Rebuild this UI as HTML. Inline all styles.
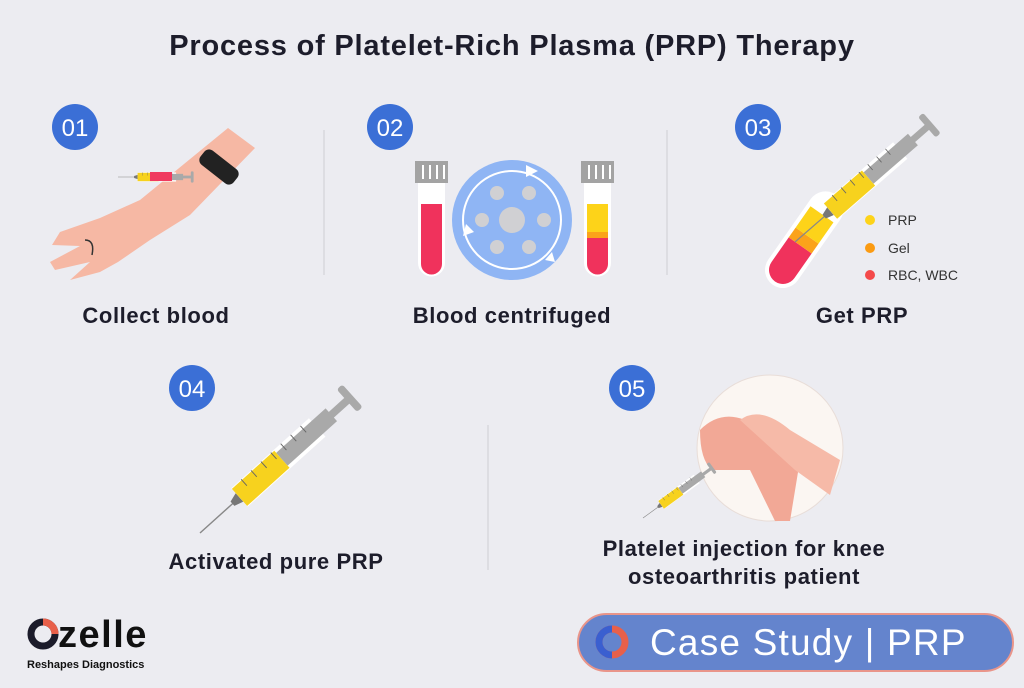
<!DOCTYPE html>
<html><head><meta charset="utf-8"><style>
body{margin:0;width:1024px;height:683px;background:#ececf1;font-family:"Liberation Sans",sans-serif;overflow:hidden}
</style></head><body>
<svg width="1024" height="683" viewBox="0 0 1024 683" xmlns="http://www.w3.org/2000/svg">
<defs>
<g id="syr">
 <line x1="0" y1="0" x2="48" y2="0" stroke="#888" stroke-width="1.5"/>
 <polygon points="46,-3 56,-6 56,6 46,3" fill="#777"/>
 <rect x="56" y="-13" width="110" height="26" fill="#fff"/>
 <rect x="56" y="-12" width="60" height="24" fill="#f7d21e"/>
 <rect x="116" y="-9" width="70" height="18" fill="#a9a9a9"/>
 <rect x="184" y="-4" width="26" height="8" fill="#a9a9a9"/>
 <rect x="208" y="-16" width="8" height="32" rx="3" fill="#a9a9a9"/>
 <g stroke="#666" stroke-width="1"><line x1="70" y1="-13" x2="70" y2="-4"/><line x1="84" y1="-13" x2="84" y2="-4"/><line x1="98" y1="-13" x2="98" y2="-4"/><line x1="112" y1="-13" x2="112" y2="-4"/><line x1="126" y1="-13" x2="126" y2="-4"/><line x1="140" y1="-13" x2="140" y2="-4"/><line x1="154" y1="-13" x2="154" y2="-4"/></g>
</g>
</defs>
<text x="512" y="55" text-anchor="middle" font-size="29" letter-spacing="0.8" font-weight="bold" fill="#1d1d2b">Process of Platelet-Rich Plasma (PRP) Therapy</text>
<g font-size="24" fill="#fff" text-anchor="middle">
<circle cx="75" cy="127" r="23" fill="#3b6fd6"/><text x="75" y="136">01</text>
<circle cx="390" cy="127" r="23" fill="#3b6fd6"/><text x="390" y="136">02</text>
<circle cx="758" cy="127" r="23" fill="#3b6fd6"/><text x="758" y="136">03</text>
<circle cx="192" cy="388" r="23" fill="#3b6fd6"/><text x="192" y="397">04</text>
<circle cx="632" cy="388" r="23" fill="#3b6fd6"/><text x="632" y="397">05</text>
</g>
<g stroke="#d8d8de" stroke-width="1.5"><line x1="324" y1="130" x2="324" y2="275"/><line x1="667" y1="130" x2="667" y2="275"/><line x1="488" y1="425" x2="488" y2="570"/></g>
<!-- arm -->
<path d="M255,148 L228,128 L140,200 L100,218 L60,232 L52,245 L80,246 L50,262 L55,270 L90,262 L70,280 L100,272 L118,262 L150,240 L190,215 Z" fill="#f6b8a4"/>
<path d="M85,240 Q95,240 92,255" stroke="#333" stroke-width="1.5" fill="none"/>
<rect x="198" y="158" width="42" height="18" rx="6" fill="#222" transform="rotate(38 219 167)"/>
<g transform="translate(118,177) scale(0.35)"><use href="#syr"/></g>
<rect x="150" y="172" width="22" height="9" fill="#f03a5f"/>
<!-- centrifuge -->
<g>
<rect x="415" y="161" width="33" height="22" fill="#a3a3a3"/>
<g stroke="#fff" stroke-width="2"><line x1="423" y1="165" x2="423" y2="179"/><line x1="430" y1="165" x2="430" y2="179"/><line x1="437" y1="165" x2="437" y2="179"/><line x1="444" y1="165" x2="444" y2="179"/></g>
<path d="M418,183 h27 v80 a13.5,13.5 0 0 1 -27,0 z" fill="#fff"/>
<path d="M421,204 h21 v60 a10.5,10.5 0 0 1 -21,0 z" fill="#f0325c"/>
<rect x="581" y="161" width="33" height="22" fill="#a3a3a3"/>
<g stroke="#fff" stroke-width="2"><line x1="589" y1="165" x2="589" y2="179"/><line x1="596" y1="165" x2="596" y2="179"/><line x1="603" y1="165" x2="603" y2="179"/><line x1="610" y1="165" x2="610" y2="179"/></g>
<path d="M584,183 h27 v80 a13.5,13.5 0 0 1 -27,0 z" fill="#fff"/>
<path d="M587,204 h21 v60 a10.5,10.5 0 0 1 -21,0 z" fill="#f0325c"/>
<rect x="587" y="204" width="21" height="28" fill="#fdd319"/>
<rect x="587" y="232" width="21" height="6" fill="#fba31a"/>
<circle cx="512" cy="220" r="60" fill="#8fb5f4"/>
<circle cx="512" cy="220" r="49" fill="none" stroke="#fff" stroke-width="2"/>
<circle cx="512" cy="220" r="13" fill="#d0d0d3"/>
<g fill="#d0d0d3"><circle cx="497" cy="193" r="7"/><circle cx="529" cy="193" r="7"/><circle cx="482" cy="220" r="7"/><circle cx="544" cy="220" r="7"/><circle cx="497" cy="247" r="7"/><circle cx="529" cy="247" r="7"/></g>
<g fill="#fff"><polygon points="526,165 538,171 526,177"/><polygon points="463,236 466,224 474,232"/><polygon points="545,260 552,252 555,262"/></g>
</g>
<!-- get prp -->
<g transform="translate(783,270) rotate(-55)">
<rect x="-18" y="-18" width="110" height="36" rx="18" fill="#fff"/>
<path d="M0,-14 h30 v28 h-30 a14,14 0 0 1 0,-28z" fill="#f0325c"/>
<rect x="30" y="-14" width="12" height="28" fill="#fba31a"/>
<rect x="42" y="-14" width="26" height="28" fill="#fdd319"/>
</g>
<g transform="translate(795,242) rotate(-41) scale(0.84)"><use href="#syr"/></g>
<g font-size="14" fill="#333"><circle cx="870" cy="220" r="5" fill="#fdd319"/><text x="888" y="225">PRP</text>
<circle cx="870" cy="248" r="5" fill="#fb9b12"/><text x="888" y="253">Gel</text>
<circle cx="870" cy="275" r="5" fill="#f44a4a"/><text x="888" y="280">RBC, WBC</text></g>
<!-- 04 -->
<g transform="translate(200,533) rotate(-42) scale(0.95)"><use href="#syr"/></g>
<!-- 05 -->
<circle cx="770" cy="448" r="73" fill="#fbf6f2" stroke="#e8ddd8"/>
<path d="M700,430 Q720,410 745,420 L800,460 L790,521 L775,521 L750,470 L712,470 Q700,460 700,430Z" fill="#f2a896"/>
<path d="M740,420 Q760,405 790,430 L840,460 L830,495 L795,470 Z" fill="#f6baa8"/>
<g transform="translate(643,518) rotate(-36) scale(0.4)"><use href="#syr"/></g>
<g font-size="22" letter-spacing="0.6" font-weight="bold" fill="#1d1d2b" text-anchor="middle">
<text x="156" y="323">Collect blood</text>
<text x="512" y="323">Blood centrifuged</text>
<text x="862" y="323">Get PRP</text>
<text x="276" y="569">Activated pure PRP</text>
<text x="744" y="556">Platelet injection for knee</text>
<text x="744" y="584">osteoarthritis patient</text>
</g>
<!-- logo -->
<circle cx="43" cy="634" r="12" fill="none" stroke="#1b1b2a" stroke-width="7"/>
<path d="M43,622 a12,12 0 0 1 12,12" stroke="#e8604a" stroke-width="7" fill="none"/>
<text x="58" y="647" font-size="38" letter-spacing="1.5" font-weight="bold" fill="#111">zelle</text>
<text x="27" y="668" font-size="11" font-weight="bold" fill="#111">Reshapes Diagnostics</text>
<rect x="578" y="614" width="435" height="57" rx="28.5" fill="#6484cd" stroke="#e9958a" stroke-width="2"/>
<circle cx="612" cy="642" r="13" fill="none" stroke="#e8604a" stroke-width="7"/>
<path d="M612,629 a13,13 0 0 0 0,26" stroke="#3a5fd0" stroke-width="7" fill="none"/>
<text x="650" y="655" font-size="37" letter-spacing="1.2" fill="#fff">Case Study | PRP</text>
</svg>
</body></html>
